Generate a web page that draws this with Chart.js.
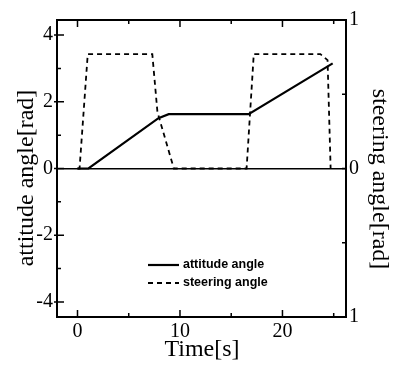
<!DOCTYPE html>
<html>
<head>
<meta charset="utf-8">
<script src="https://cdn.jsdelivr.net/npm/chart.js@4/dist/chart.umd.min.js"></script>
<style>
  html, body { margin: 0; padding: 0; background: #fff; }
  #wrap { width: 395px; height: 367px; }
</style>
</head>
<body>
<div id="wrap"><canvas id="angleChart"></canvas></div>
<script>
// attitude angle [rad], left axis
const timeAtt = [0, 1.07, 7.9, 8.9, 16.7, 24.9];
const attitude = [0, 0, 1.51, 1.63, 1.63, 3.15];

// steering angle [rad], right axis
const timeSteer = [0, 0.2, 1.0, 7.3, 7.8, 9.4, 16.5, 17.2, 23.7, 24.4, 24.7];
const steering = [0, 0, 0.77, 0.77, 0.38, 0, 0, 0.77, 0.77, 0.73, 0];

const timeTicks = [0, 10, 20];
const leftTicks = [-4, -2, 0, 2, 4];
const rightTicks = [-1, 0, 1];
const rightTickLabels = ['1', '0', '1'];

const serif = 'Liberation Serif';

function pts(xs, ys) {
    return xs.map((x, i) => ({ x: x, y: ys[i] }));
}

// box, inward tick marks, axis titles and the little legend
const decorations = {
    id: 'decorations',
    afterDraw(chart) {
        const { ctx, chartArea: a, scales } = chart;
        const sx = scales.x, sy = scales.y, sy1 = scales.y1;
        ctx.save();
        ctx.strokeStyle = '#000';
        ctx.lineWidth = 2;
        ctx.strokeRect(a.left, a.top, a.right - a.left, a.bottom - a.top);

        ctx.lineWidth = 1.5;
        ctx.beginPath();
        timeTicks.forEach(v => {
            const px = sx.getPixelForValue(v);
            ctx.moveTo(px, a.bottom); ctx.lineTo(px, a.bottom - 7);
            ctx.moveTo(px, a.top); ctx.lineTo(px, a.top + 7);
        });
        [5, 15, 25].forEach(v => {
            const px = sx.getPixelForValue(v);
            ctx.moveTo(px, a.bottom); ctx.lineTo(px, a.bottom - 4);
            ctx.moveTo(px, a.top); ctx.lineTo(px, a.top + 4);
        });
        leftTicks.forEach(v => {
            const py = sy.getPixelForValue(v);
            ctx.moveTo(a.left - 3, py); ctx.lineTo(a.left + 7, py);
        });
        [-3, -1, 1, 3].forEach(v => {
            const py = sy.getPixelForValue(v);
            ctx.moveTo(a.left, py); ctx.lineTo(a.left + 4, py);
        });
        [-0.5, 0, 0.5].forEach(v => {
            const py = sy1.getPixelForValue(v);
            ctx.moveTo(a.right, py); ctx.lineTo(a.right - 4, py);
        });
        ctx.stroke();

        // axis titles
        ctx.fillStyle = '#000';
        ctx.font = '24px "' + serif + '"';
        ctx.textAlign = 'center';
        ctx.textBaseline = 'middle';
        ctx.fillText('Time[s]', 202, 350);

        ctx.save();
        ctx.translate(27, 178);
        ctx.rotate(-Math.PI / 2);
        ctx.fillText('attitude angle[rad]', 0, 0);
        ctx.restore();

        ctx.save();
        ctx.translate(379, 179);
        ctx.rotate(Math.PI / 2);
        ctx.fillText('steering angle[rad]', 0, 0);
        ctx.restore();

        // legend
        ctx.font = 'bold 12.5px "Liberation Sans"';
        ctx.textAlign = 'left';
        chart.data.datasets.forEach((ds, i) => {
            const y = 265 + i * 18;
            ctx.lineWidth = ds.borderWidth;
            ctx.setLineDash(ds.borderDash || []);
            ctx.beginPath();
            ctx.moveTo(148, y); ctx.lineTo(179, y);
            ctx.stroke();
            ctx.setLineDash([]);
            ctx.fillText(ds.label, 183, y);
        });
        ctx.restore();
    }
};

new Chart(document.getElementById('angleChart'), {
    type: 'line',
    data: {
        datasets: [{
            label: 'attitude angle',
            data: pts(timeAtt, attitude),
            yAxisID: 'y',
            borderColor: '#000',
            borderWidth: 2.2,
            pointRadius: 0,
            tension: 0
        }, {
            label: 'steering angle',
            data: pts(timeSteer, steering),
            yAxisID: 'y1',
            borderColor: '#000',
            borderWidth: 1.8,
            borderDash: [5, 4],
            pointRadius: 0,
            tension: 0
        }]
    },
    options: {
        responsive: true,
        maintainAspectRatio: false,
        animation: false,
        layout: { padding: { top: 20, left: 0, right: 0, bottom: 0 } },
        plugins: {
            legend: { display: false },
            tooltip: { enabled: false }
        },
        scales: {
            x: {
                type: 'linear',
                min: -2,
                max: 26.2,
                afterBuildTicks: s => { s.ticks = timeTicks.map(v => ({ value: v })); },
                afterFit: s => { s.height = 50; },
                grid: { display: false },
                border: { display: false },
                ticks: { color: '#000', padding: -5, font: { family: serif, size: 20 } }
            },
            y: {
                position: 'left',
                min: -4.45,
                max: 4.45,
                afterBuildTicks: s => { s.ticks = leftTicks.map(v => ({ value: v })); },
                afterFit: s => { s.width = 57; },
                grid: {
                    drawTicks: false,
                    lineWidth: 1.5,
                    color: c => c.tick && c.tick.value === 0 ? '#000' : 'rgba(0,0,0,0)'
                },
                border: { display: false },
                ticks: { color: '#000', padding: 4, font: { family: serif, size: 20 } }
            },
            y1: {
                position: 'right',
                min: -1,
                max: 1,
                afterBuildTicks: s => { s.ticks = rightTicks.map(v => ({ value: v })); },
                afterFit: s => { s.width = 49; },
                grid: { display: false, drawTicks: false },
                border: { display: false },
                ticks: {
                    color: '#000',
                    padding: 3,
                    font: { family: serif, size: 20 },
                    callback: (v, i) => rightTickLabels[i]
                }
            }
        }
    },
    plugins: [decorations]
});
</script>
</body>
</html>
